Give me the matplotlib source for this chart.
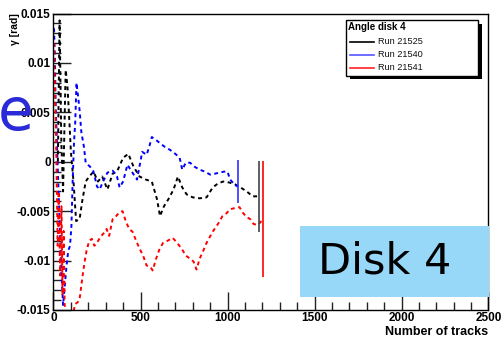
import matplotlib
matplotlib.use("Agg")
import matplotlib.pyplot as plt
from matplotlib.patches import Rectangle
from matplotlib.lines import Line2D

# run 21525 (black)
black_x = [25, 35, 45, 55, 70, 80, 90, 100, 115, 130, 150, 165, 185, 205, 230, 255, 280, 310,
           340, 365, 400, 430, 460, 495, 530, 565, 595, 612, 635, 660, 690, 715, 740, 765,
           800, 840, 880, 915, 945, 975, 1010, 1045, 1075, 1110, 1145, 1175]
black_y = [0.0, 0.0143, 0.002, -0.003, 0.0093, 0.0077, 0.0045, 0.001, -0.002, -0.006, -0.0058,
           -0.004, -0.002, -0.0015, -0.001, -0.002, -0.0015, -0.0028, -0.0012, -0.001, 0.0004,
           0.0008, -0.0005, -0.0015, -0.0018, -0.002, -0.0038, -0.0055, -0.0045, -0.0038,
           -0.0028, -0.0015, -0.0026, -0.0033, -0.0036, -0.0037, -0.0036, -0.0026, -0.0022,
           -0.002, -0.0021, -0.0023, -0.0026, -0.003, -0.0035, -0.0035]

# run 21540 (blue)
blue_x = [3, 8, 12, 18, 25, 35, 45, 55, 65, 75, 85, 95, 103, 110, 118, 125, 132, 142, 150, 160,
          175, 185, 210, 230, 250, 265, 285, 310, 340, 365, 380, 400, 425, 450, 480, 510, 535,
          550, 565, 590, 610, 640, 670, 700, 725, 740, 760, 785, 810, 840, 870, 900, 930, 955,
          980, 1000, 1015, 1035, 1055]
blue_y = [0.0135, 0.0105, 0.006, 0.0028, -0.001, -0.006, -0.011, -0.0145, -0.0125, -0.0105,
          -0.009, -0.0085, -0.0065, -0.002, 0.002, 0.004, 0.008, 0.0065, 0.0052, 0.003, 0.0015,
          -0.0001, -0.0005, -0.001, -0.0025, -0.0028, -0.002, -0.0011, -0.0009, -0.0015,
          -0.0026, -0.002, -0.0003, -0.001, -0.0018, 0.001, 0.0007, 0.0015, 0.0025, 0.0022,
          0.0019, 0.0015, 0.0012, 0.0008, 0.0004, -0.0008, -0.0001, -0.0001, -0.0005, -0.0008,
          -0.001, -0.0013, -0.0012, -0.0011, -0.001, -0.001, -0.0018, -0.0022, -0.0025]

# run 21541 (red)
red_x = [3, 6, 10, 14, 18, 24, 30, 38, 46, 52, 58, 64, 72, 80, 95, 110, 125, 140, 150, 160, 170,
         180, 190, 205, 220, 235, 250, 270, 290, 305, 320, 340, 360, 380, 397, 415, 435, 455,
         475, 495, 515, 535, 555, 570, 590, 610, 630, 655, 685, 710, 737, 760, 785, 805, 822,
         840, 856, 880, 914, 945, 971, 995, 1015, 1040, 1069, 1090, 1110, 1130, 1150, 1175, 1195]
red_y = [0.012, 0.009, 0.0065, 0.003, -0.0013, -0.0085, -0.003, -0.0115, -0.0045, -0.0135,
         -0.007, -0.0145, -0.015, -0.016, -0.016, -0.0155, -0.0144, -0.0142, -0.0139, -0.0125,
         -0.0112, -0.01, -0.009, -0.008, -0.0078, -0.0085, -0.0082, -0.0076, -0.0072, -0.0068,
         -0.0075, -0.0058, -0.0055, -0.0051, -0.005, -0.006, -0.0068, -0.0071, -0.008, -0.0088,
         -0.0095, -0.0105, -0.0106, -0.011, -0.0098, -0.0088, -0.0082, -0.008, -0.0077, -0.0082,
         -0.0088, -0.0095, -0.0098, -0.0101, -0.0109, -0.0098, -0.0092, -0.0082, -0.0071,
         -0.0063, -0.0055, -0.0052, -0.0048, -0.0047, -0.0046, -0.0052, -0.0056, -0.0058,
         -0.0063, -0.0064, -0.006]

# last point of each run, with its big error bar
end_x = [1181, 1060, 1204]
end_y = [-0.0035, -0.002, -0.0058]
end_err = [0.0036, 0.0022, 0.0059]

runs = ["Run 21525", "Run 21540", "Run 21541"]
line_cols = ["black", "#0000ff", "#ff0000"]
end_cols = ["#444444", "#3030ff", "#ff0000"]
legend_cols = ["black", "#5555ff", "#ff2020"]

W, H = 502, 342
def fx(px):
    return px / W
def fy(py):
    return 1 - py / H

fig = plt.figure(figsize=(5.02, 3.42), dpi=100)
ax = fig.add_axes([fx(53.5), fy(310), fx(488.5) - fx(53.5), fy(13.5) - fy(310)])

dash = (0, (2, 1.8))
for xs, ys, c in zip([black_x, blue_x, red_x], [black_y, blue_y, red_y], line_cols):
    ax.plot(xs, ys, color=c, lw=1.4, ls=dash)
for i in range(3):
    ax.errorbar(end_x[i], end_y[i], yerr=end_err[i], color=end_cols[i], lw=1.2, capsize=0)

ax.set_xlim(0, 2500)
ax.set_ylim(-0.015, 0.015)
ax.set_xticks([0, 500, 1000, 1500, 2000, 2500])
ax.set_xticks(range(0, 2501, 100), minor=True)
ax.set_yticks([-0.015, -0.01, -0.005, 0, 0.005, 0.01, 0.015])
ax.set_yticklabels(["-0.015", "-0.01", "-0.005", "0", "0.005", "0.01", "0.015"])
ax.set_yticks([i * 0.001 for i in range(-15, 16)], minor=True)
ax.tick_params(which="both", direction="in", top=False, right=False, width=1, color="#222222")
ax.tick_params(which="major", length=13)
ax.tick_params(which="minor", length=6)
ax.tick_params(axis="y", pad=2)
ax.tick_params(axis="x", pad=1.5)
for lab in ax.get_xticklabels() + ax.get_yticklabels():
    lab.set_fontfamily("Liberation Sans")
    lab.set_fontweight("bold")
    lab.set_fontsize(8.5)
for s in ax.spines.values():
    s.set_linewidth(1)

fig.text(fx(488), fy(332), "Number of tracks", ha="right", va="center",
         family="Liberation Sans", weight="bold", fontsize=9)
fig.text(fx(15), fy(29), "\u03b3 [rad]", ha="center", va="center", rotation=90,
         family="Liberation Sans", weight="bold", fontsize=7.5)

# legend box with shadow
fig.patches.append(Rectangle((fx(349.5), fy(79)), fx(482) - fx(349.5), fy(24) - fy(79),
                             transform=fig.transFigure, facecolor="black", edgecolor="none", zorder=5))
fig.patches.append(Rectangle((fx(345.5), fy(75.5)), fx(478) - fx(345.5), fy(20.5) - fy(75.5),
                             transform=fig.transFigure, facecolor="white", edgecolor="black",
                             lw=1, zorder=6))
fig.text(fx(347.5), fy(27), "Angle disk 4", ha="left", va="center", family="Liberation Sans",
         weight="bold", fontsize=7, zorder=7)
for i, (name, c) in enumerate(zip(runs, legend_cols)):
    yy = 42 + 12.8 * i
    fig.add_artist(Line2D([fx(350), fx(374)], [fy(yy), fy(yy)], color=c, lw=1.2, zorder=7))
    fig.text(fx(378), fy(yy), name, ha="left", va="center", family="Liberation Sans",
             fontsize=6.6, color="#111111", zorder=7)

# slide overlays
fig.patches.append(Rectangle((fx(300), fy(297)), fx(489) - fx(300), fy(226) - fy(297),
                             transform=fig.transFigure, facecolor="#97d8f8", edgecolor="none", zorder=8))
fig.text(fx(385), fy(262), "Disk 4", ha="center", va="center", family="DejaVu Sans",
         fontsize=31, color="black", zorder=9)
fig.text(fx(16), fy(113), "e", ha="center", va="center", family="DejaVu Sans",
         fontsize=42, color="#2a2ad8", zorder=9)

fig.savefig("out.png", dpi=100)
